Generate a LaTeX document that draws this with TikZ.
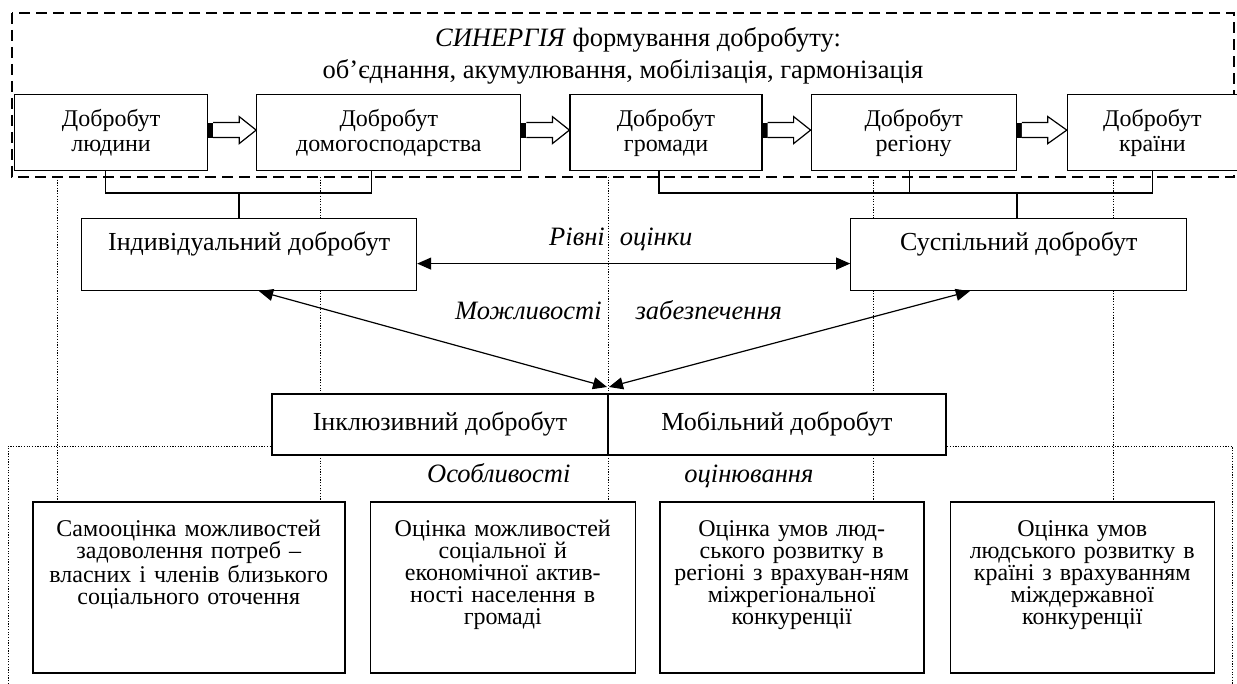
\documentclass[tikz,border=0pt]{standalone}
\usepackage{fontspec}
\setmainfont{Liberation Serif}
\usetikzlibrary{positioning,arrows.meta,calc,backgrounds}

% hollow block arrow with a black tail between two level boxes
\newcommand{\blockarrow}[2]{%
  \fill ([yshift=10pt]#1.east) rectangle ([xshift=5pt,yshift=-5pt]#1.east);
  \draw[line width=1.2pt, fill=white, line join=miter]
    ([xshift=5pt,yshift=10pt]#1.east) -- ([xshift=31pt,yshift=10pt]#1.east)
    -- ([xshift=31pt,yshift=16pt]#1.east) -- ([yshift=2.5pt]#2.west)
    -- ([xshift=31pt,yshift=-11pt]#1.east) -- ([xshift=31pt,yshift=-5pt]#1.east)
    -- ([xshift=5pt,yshift=-5pt]#1.east);
}

\begin{document}
\begin{tikzpicture}[
    x=1pt, y=-1pt,
    node distance=48pt,
    lvl/.style={rectangle, draw, line width=1.2pt, fill=white, minimum height=76pt,
                align=center, inner sep=0pt, font=\fontsize{24}{25}\selectfont},
    kind/.style={rectangle, draw, line width=1.2pt, fill=white, inner sep=0pt,
                 text height=32pt, text depth=40pt, font=\fontsize{26}{28}\selectfont},
    mix/.style={rectangle, draw, line width=1.2pt, fill=white, inner sep=0pt, outer sep=0pt,
                minimum height=61pt, font=\fontsize{26}{28}\selectfont},
    est/.style={rectangle, draw, line width=1.5pt, fill=white, inner sep=0pt, align=center,
                text height=35pt, text depth=136pt, font=\fontsize{24}{22}\selectfont},
    note/.style={inner sep=0pt, anchor=base west, font=\fontsize{26.5}{28}\selectfont\itshape},
    synframe/.style={line width=1.2pt, dash pattern=on 11pt off 6pt},
    guide/.style={line width=1pt, dash pattern=on 1.2pt off 1.5pt},
    link/.style={line width=1.2pt},
    twoway/.style={line width=1.2pt, {Triangle[length=14pt,width=12pt]}-{Triangle[length=14pt,width=12pt]}},
  ]
  \useasboundingbox (0,0) rectangle (1237,684);

  % synergy frame
  \node[align=center, font=\fontsize{26.5}{32}\selectfont] (syn) at (623,56)
    {\hspace*{30pt}\textit{СИНЕРГІЯ} формування добробуту:\\ об’єднання, акумулювання, мобілізація, гармонізація};
  \node[lvl, minimum width=193pt, anchor=north west] (b1) at (14,94) {Добробут\\ людини};
  \node[lvl, minimum width=264pt, right=of b1] (b2) {Добробут\\ домогосподарства};
  \node[lvl, minimum width=192pt, right=of b2] (b3) {Добробут\\ громади};
  \node[lvl, minimum width=205pt, right=of b3] (b4) {Добробут\\ регіону};
  \node[lvl, minimum width=170pt, right=50pt of b4] (b5) {Добробут\\ країни};

  \blockarrow{b1}{b2}
  \blockarrow{b2}{b3}
  \blockarrow{b3}{b4}
  \blockarrow{b4}{b5}

  % levels of evaluation
  \node[kind, minimum width=335pt, anchor=north west] (ind) at (81,218) {Індивідуальний добробут};
  \node[kind, minimum width=336pt, right=433pt of ind] (sus) {Суспільний добробут};
  \node[mix, minimum width=336pt, anchor=north west] (inc) at (272,394) {Інклюзивний добробут};
  \node[mix, minimum width=338pt, right=0pt of inc] (mob) {Мобільний добробут};

  \node[note] (lv) at (549,246) {Рівні\hspace{15pt}оцінки};
  \node[note] (mz) at (455,320) {Можливості\hspace{34pt}забезпечення};
  \node[note] (ob) at (427,482) {Особливості\hspace{114pt}оцінювання};

  % evaluation boxes
  \node[est, text width=312pt, anchor=north west] (s1) at (32,501)
    {Самооцінка можливостей\\ задоволення потреб –\\ власних і членів близького\\ соціального оточення};
  \node[est, text width=265pt, right=24pt of s1] (s2)
    {Оцінка можливостей\\ соціальної й\\ економічної актив-\\ ності населення в\\ громаді};
  \node[est, text width=264pt, right=23pt of s2] (s3)
    {Оцінка умов люд-\\ ського розвитку в\\ регіоні з врахуван-ням\\ міжрегіональної\\ конкуренції};
  \node[est, text width=264pt, right=25pt of s3] (s4)
    {Оцінка умов\\ людського розвитку в\\ країні з врахуванням\\ міждержавної\\ конкуренції};

  \coordinate (jl) at (239,193);
  \coordinate (jr) at (1017,193);
  \draw[link] ([xshift=-6pt]b1.south) |- (jl) -| ([xshift=-17pt]b2.south);
  \draw[link] (jl) -- (jl |- ind.north);
  \draw[link] ([xshift=-7pt]b3.south) |- (jr) -| (b5.south);
  \draw[link] ([xshift=-4pt]b4.south) -- ([xshift=-4pt]b4.south |- jr);
  \draw[link] (jr) -- (jr |- sus.north);

  \draw[twoway] ([yshift=-9pt]ind.east) -- ([yshift=-9pt]sus.west);
  \draw[twoway] ([xshift=10pt]ind.south) -- ([xshift=-1pt,yshift=7pt]inc.north east);
  \draw[twoway] ([xshift=-49pt]sus.south) -- ([xshift=1pt,yshift=7pt]mob.north west);

  \begin{scope}[on background layer]
    \draw[synframe] (12,13) rectangle (1234,177);
    \draw[guide] (8,684) -- (8,446) -- (1232,446) -- (1232,684);
    \coordinate (g1) at (57,177);
    \coordinate (g2) at (320,177);
    \coordinate (g3) at (608,177);
    \coordinate (g4) at (873,177);
    \coordinate (g5) at (1113,177);
    \draw[guide] (g1) -- (g1 |- s1.north);
    \draw[guide] (g2) -- (g2 |- s1.north);
    \draw[guide] (g3) -- (g3 |- s2.north);
    \draw[guide] (g4) -- (g4 |- s3.north);
    \draw[guide] (g5) -- (g5 |- s4.north);
  \end{scope}
\end{tikzpicture}
\end{document}
